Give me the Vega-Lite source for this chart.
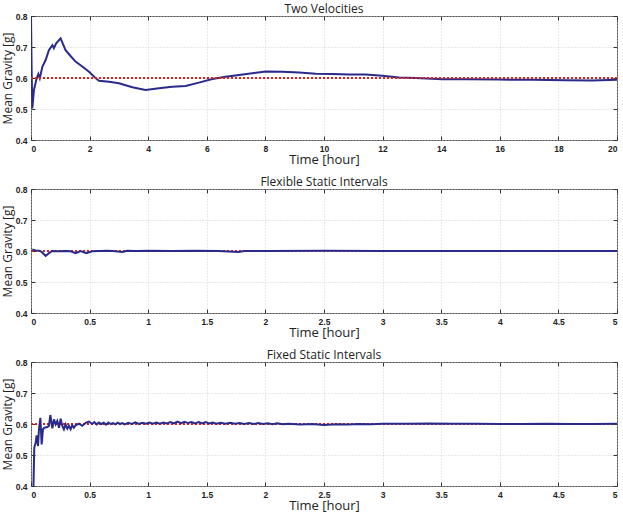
{
  "$schema": "https://vega.github.io/schema/vega-lite/v6.json",
  "padding": {"left": 0, "top": 2, "right": 0, "bottom": 0},
  "spacing": 49,
  "bounds": "flush",
  "config": {
    "view": {"stroke": "#555555", "strokeWidth": 1},
    "title": {"font": "Open Sans", "fontSize": 12, "fontWeight": "normal", "color": "#222222", "offset": -4},
    "axis": {
      "labelFont": "Liberation Sans", "labelFontWeight": "bold", "labelFontSize": 8.5, "labelColor": "#222222",
      "titleFont": "Open Sans", "titleFontWeight": "normal", "titleColor": "#222222",
      "domain": false, "tickColor": "#333333", "tickSize": -4, "labelPadding": 8,
      "gridColor": "#c8c8c8", "gridDash": [1, 2], "gridWidth": 0.8
    },
    "axisX": {"titleFontSize": 13, "titlePadding": 1},
    "axisY": {"titleFontSize": 12, "titlePadding": 1}
  },
  "datasets": {
    "tv": [
      {"t":0,"v":0.80},{"t":0.02,"v":0.636},{"t":0.045,"v":0.502},{"t":0.10,"v":0.561},{"t":0.18,"v":0.594},{"t":0.25,"v":0.613},{"t":0.30,"v":0.599},{"t":0.39,"v":0.637},{"t":0.50,"v":0.658},{"t":0.61,"v":0.690},{"t":0.73,"v":0.706},{"t":0.78,"v":0.696},{"t":0.86,"v":0.712},{"t":1.01,"v":0.728},{"t":1.18,"v":0.690},{"t":1.35,"v":0.671},{"t":1.52,"v":0.653},{"t":1.75,"v":0.637},{"t":1.98,"v":0.620},{"t":2.21,"v":0.599},{"t":2.32,"v":0.591},{"t":2.66,"v":0.588},{"t":3.0,"v":0.583},{"t":3.46,"v":0.570},{"t":3.91,"v":0.561},{"t":4.37,"v":0.567},{"t":4.82,"v":0.572},{"t":5.28,"v":0.574},{"t":5.73,"v":0.585},{"t":6.19,"v":0.597},{"t":6.64,"v":0.604},{"t":7.10,"v":0.610},{"t":7.55,"v":0.615},{"t":8.01,"v":0.621},{"t":8.58,"v":0.620},{"t":9.15,"v":0.618},{"t":9.72,"v":0.614},{"t":10.28,"v":0.613},{"t":10.85,"v":0.611},{"t":11.42,"v":0.611},{"t":11.99,"v":0.607},{"t":12.56,"v":0.602},{"t":13.13,"v":0.600},{"t":14.04,"v":0.596},{"t":14.84,"v":0.596},{"t":15.97,"v":0.595},{"t":17.11,"v":0.594},{"t":18.25,"v":0.593},{"t":19.16,"v":0.592},{"t":20,"v":0.594}
    ],
    "flex": [
      {"t":0.011,"v":0.605},{"t":0.04,"v":0.602},{"t":0.068,"v":0.601},{"t":0.091,"v":0.597},{"t":0.125,"v":0.584},{"t":0.153,"v":0.593},{"t":0.182,"v":0.600},{"t":0.224,"v":0.599},{"t":0.295,"v":0.600},{"t":0.338,"v":0.599},{"t":0.381,"v":0.593},{"t":0.423,"v":0.600},{"t":0.472,"v":0.593},{"t":0.523,"v":0.599},{"t":0.58,"v":0.600},{"t":0.65,"v":0.601},{"t":0.70,"v":0.600},{"t":0.78,"v":0.597},{"t":0.82,"v":0.601},{"t":0.9,"v":0.600},{"t":1.0,"v":0.601},{"t":1.2,"v":0.600},{"t":1.4,"v":0.601},{"t":1.6,"v":0.600},{"t":1.77,"v":0.597},{"t":1.82,"v":0.600},{"t":2.0,"v":0.600},{"t":2.5,"v":0.601},{"t":3.0,"v":0.600},{"t":3.5,"v":0.600},{"t":4.0,"v":0.600},{"t":4.5,"v":0.600},{"t":5.0,"v":0.600}
    ],
    "fixed": [
      {"t":0.015,"v":0.30},{"t":0.028,"v":0.524},{"t":0.040,"v":0.540},{"t":0.048,"v":0.563},{"t":0.060,"v":0.529},{"t":0.068,"v":0.583},{"t":0.080,"v":0.620},{"t":0.091,"v":0.534},{"t":0.102,"v":0.583},{"t":0.114,"v":0.588},{"t":0.139,"v":0.590},{"t":0.153,"v":0.594},{"t":0.165,"v":0.629},{"t":0.182,"v":0.586},{"t":0.196,"v":0.615},{"t":0.210,"v":0.599},{"t":0.224,"v":0.610},{"t":0.239,"v":0.588},{"t":0.253,"v":0.617},{"t":0.267,"v":0.594},{"t":0.281,"v":0.583},{"t":0.295,"v":0.599},{"t":0.310,"v":0.585},{"t":0.324,"v":0.594},{"t":0.338,"v":0.583},{"t":0.352,"v":0.596},{"t":0.366,"v":0.588},{"t":0.381,"v":0.596},{"t":0.409,"v":0.601},{"t":0.438,"v":0.594},{"t":0.466,"v":0.604},{"t":0.494,"v":0.608},{"t":0.523,"v":0.600},
      {"t":0.54,"v":0.606},{"t":0.56,"v":0.599},{"t":0.58,"v":0.605},{"t":0.60,"v":0.600},{"t":0.62,"v":0.604},{"t":0.64,"v":0.598},{"t":0.66,"v":0.605},{"t":0.68,"v":0.600},{"t":0.70,"v":0.603},{"t":0.72,"v":0.599},{"t":0.74,"v":0.604},{"t":0.76,"v":0.600},{"t":0.78,"v":0.603},{"t":0.80,"v":0.599},{"t":0.83,"v":0.604},{"t":0.86,"v":0.600},{"t":0.89,"v":0.605},{"t":0.92,"v":0.600},{"t":0.95,"v":0.604},{"t":0.98,"v":0.601},{"t":1.01,"v":0.605},{"t":1.04,"v":0.601},{"t":1.07,"v":0.605},{"t":1.10,"v":0.601},{"t":1.13,"v":0.605},{"t":1.16,"v":0.602},{"t":1.19,"v":0.606},{"t":1.22,"v":0.602},{"t":1.25,"v":0.608},{"t":1.28,"v":0.603},{"t":1.31,"v":0.607},{"t":1.34,"v":0.603},{"t":1.37,"v":0.606},{"t":1.40,"v":0.602},{"t":1.43,"v":0.606},{"t":1.46,"v":0.602},{"t":1.49,"v":0.606},{"t":1.52,"v":0.602},{"t":1.55,"v":0.605},{"t":1.58,"v":0.601},{"t":1.62,"v":0.604},{"t":1.66,"v":0.601},{"t":1.70,"v":0.604},{"t":1.74,"v":0.601},{"t":1.78,"v":0.603},{"t":1.82,"v":0.600},{"t":1.86,"v":0.603},{"t":1.90,"v":0.600},{"t":1.94,"v":0.603},{"t":1.98,"v":0.600},{"t":2.02,"v":0.602},{"t":2.06,"v":0.599},{"t":2.10,"v":0.602},{"t":2.15,"v":0.599},{"t":2.2,"v":0.601},{"t":2.3,"v":0.598},{"t":2.4,"v":0.600},{"t":2.5,"v":0.597},{"t":2.6,"v":0.599},{"t":2.7,"v":0.598},{"t":2.8,"v":0.600},{"t":2.9,"v":0.599},{"t":3.0,"v":0.601},{"t":3.2,"v":0.601},{"t":3.4,"v":0.602},{"t":3.6,"v":0.601},{"t":3.8,"v":0.601},{"t":4.0,"v":0.600},{"t":4.2,"v":0.600},{"t":4.4,"v":0.601},{"t":4.6,"v":0.600},{"t":4.8,"v":0.600},{"t":5.0,"v":0.601}
    ]
  },
  "vconcat": [
    {
      "width": 586, "height": 124,
      "title": "Two Velocities",
      "data": {"name": "tv"},
      "resolve": {"axis": {"x": "independent", "y": "independent"}},
      "layer": [
        {
          "mark": {"type": "line", "color": "#2a2a8a", "strokeWidth": 2, "clip": true},
          "encoding": {
            "x": {"field": "t", "type": "quantitative", "scale": {"domain": [0, 20], "nice": false}, "axis": {"orient": "bottom", "title": "Time [hour]", "values": [0,2,4,6,8,10,12,14,16,18,20], "format": "~g", "grid": true}},
            "y": {"field": "v", "type": "quantitative", "scale": {"domain": [0.4, 0.8], "nice": false, "zero": false}, "axis": {"orient": "left", "title": "Mean Gravity [g]", "values": [0.4,0.5,0.6,0.7,0.8], "format": "~g", "grid": true}}
          }
        },
        {
          "mark": {"type": "rule", "color": "#e0201b", "strokeWidth": 1.5, "strokeDash": [2, 2]},
          "encoding": {"y": {"datum": 0.6, "type": "quantitative", "axis": null}}
        },
        {
          "mark": {"type": "point", "opacity": 0},
          "encoding": {
            "x": {"field": "t", "type": "quantitative", "axis": {"orient": "top", "title": null, "labels": false, "grid": false, "values": [0,2,4,6,8,10,12,14,16,18,20]}},
            "y": {"field": "v", "type": "quantitative", "axis": {"orient": "right", "title": null, "labels": false, "grid": false, "values": [0.4,0.5,0.6,0.7,0.8]}}
          }
        }
      ]
    },
    {
      "width": 586, "height": 124,
      "title": "Flexible Static Intervals",
      "data": {"name": "flex"},
      "resolve": {"axis": {"x": "independent", "y": "independent"}},
      "layer": [
        {
          "mark": {"type": "rule", "color": "#e0201b", "strokeWidth": 1.5, "strokeDash": [2, 2]},
          "encoding": {"y": {"datum": 0.6, "type": "quantitative", "scale": {"domain": [0.4, 0.8], "nice": false, "zero": false}, "axis": null}}
        },
        {
          "mark": {"type": "line", "color": "#2a2a8a", "strokeWidth": 2, "clip": true},
          "encoding": {
            "x": {"field": "t", "type": "quantitative", "scale": {"domain": [0, 5], "nice": false}, "axis": {"orient": "bottom", "title": "Time [hour]", "values": [0,0.5,1,1.5,2,2.5,3,3.5,4,4.5,5], "format": "~g", "grid": true}},
            "y": {"field": "v", "type": "quantitative", "axis": {"orient": "left", "title": "Mean Gravity [g]", "values": [0.4,0.5,0.6,0.7,0.8], "format": "~g", "grid": true}}
          }
        },
        {
          "mark": {"type": "point", "opacity": 0},
          "encoding": {
            "x": {"field": "t", "type": "quantitative", "axis": {"orient": "top", "title": null, "labels": false, "grid": false, "values": [0,0.5,1,1.5,2,2.5,3,3.5,4,4.5,5]}},
            "y": {"field": "v", "type": "quantitative", "axis": {"orient": "right", "title": null, "labels": false, "grid": false, "values": [0.4,0.5,0.6,0.7,0.8]}}
          }
        }
      ]
    },
    {
      "width": 586, "height": 124,
      "title": "Fixed Static Intervals",
      "data": {"name": "fixed"},
      "resolve": {"axis": {"x": "independent", "y": "independent"}},
      "layer": [
        {
          "mark": {"type": "rule", "color": "#e0201b", "strokeWidth": 1.5, "strokeDash": [2, 2]},
          "encoding": {"y": {"datum": 0.6, "type": "quantitative", "scale": {"domain": [0.4, 0.8], "nice": false, "zero": false}, "axis": null}}
        },
        {
          "mark": {"type": "line", "color": "#2a2a8a", "strokeWidth": 2, "clip": true},
          "encoding": {
            "x": {"field": "t", "type": "quantitative", "scale": {"domain": [0, 5], "nice": false}, "axis": {"orient": "bottom", "title": "Time [hour]", "values": [0,0.5,1,1.5,2,2.5,3,3.5,4,4.5,5], "format": "~g", "grid": true}},
            "y": {"field": "v", "type": "quantitative", "axis": {"orient": "left", "title": "Mean Gravity [g]", "values": [0.4,0.5,0.6,0.7,0.8], "format": "~g", "grid": true}}
          }
        },
        {
          "mark": {"type": "point", "opacity": 0},
          "encoding": {
            "x": {"field": "t", "type": "quantitative", "axis": {"orient": "top", "title": null, "labels": false, "grid": false, "values": [0,0.5,1,1.5,2,2.5,3,3.5,4,4.5,5]}},
            "y": {"field": "v", "type": "quantitative", "axis": {"orient": "right", "title": null, "labels": false, "grid": false, "values": [0.4,0.5,0.6,0.7,0.8]}}
          }
        }
      ]
    }
  ]
}
